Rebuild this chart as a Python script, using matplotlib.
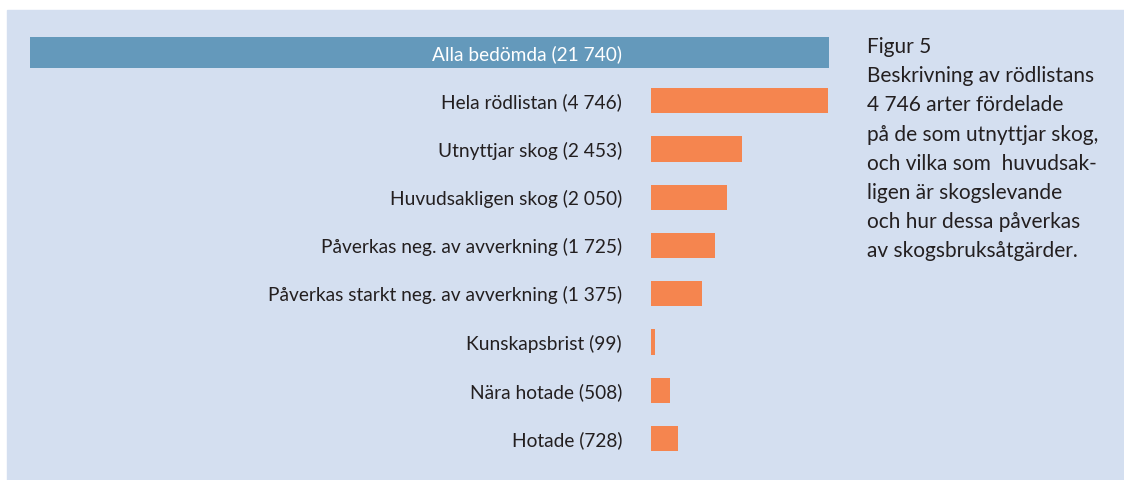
import matplotlib
matplotlib.use("Agg")
from matplotlib import pyplot as plt
from matplotlib.patches import Rectangle

# data
header_label = "Alla bedömda (21 740)"
header_value = 21740
categories = ["Hela rödlistan", "Utnyttjar skog", "Huvudsakligen skog",
              "Påverkas neg. av avverkning", "Påverkas starkt neg. av avverkning",
              "Kunskapsbrist", "Nära hotade", "Hotade"]
values = [4746, 2453, 2050, 1725, 1375, 99, 508, 728]
value_labels = ["4 746", "2 453", "2 050", "1 725", "1 375", "99", "508", "728"]

caption_title = "Figur 5"
caption_lines = ["Beskrivning av rödlistans",
                 "4 746 arter fördelade",
                 "på de som utnyttjar skog,",
                 "och vilka som  huvudsak-",
                 "ligen är skogslevande",
                 "och hur dessa påverkas",
                 "av skogsbruksåtgärder."]

BG = "#d4dff0"
HEADER = "#6499bb"
ORANGE = "#f5854f"
TXT = "#231f20"

plt.rcParams['font.family'] = ['Lato', 'DejaVu Sans']

W, H = 1124, 480
fig = plt.figure(figsize=(W / 100, H / 100), dpi=100)
fig.patch.set_facecolor("white")
fig.patches.append(Rectangle((7 / W, 0), 1 - 7 / W, (H - 10) / H,
                             transform=fig.transFigure, color=BG, zorder=-5))

# axes spans the header bar (x 30..829 px), y 20..470 px
ax_l, ax_r = 30, 829
ax_t, ax_b = 20, 470
ax = fig.add_axes([ax_l / W, (H - ax_b) / H, (ax_r - ax_l) / W, (ax_b - ax_t) / H])
ax.set_facecolor("none")

zero_px = 651
scale = max(values) / (828 - zero_px)  # units per pixel
ax.set_xlim(-(zero_px - ax_l) * scale, (ax_r - zero_px) * scale)
step = 48.25
ax.set_ylim(8 + (ax_b - 438.5) / step, -(52.5 - ax_t) / step)

# header banner across the full width
ax.barh(0, 1, left=0, height=0.64, color=HEADER, transform=ax.get_yaxis_transform())
ax.annotate(header_label, xy=(0, 0), xytext=(-29, 0), textcoords="offset pixels",
            ha="right", va="center_baseline", color="white", fontsize=13.8)

ypos = list(range(1, len(values) + 1))
ax.barh(ypos, values, height=0.52, color=ORANGE)
for y, c, v in zip(ypos, categories, value_labels):
    ax.annotate(f"{c} ({v})", xy=(0, y), xytext=(-29, 0), textcoords="offset pixels",
                ha="right", va="center_baseline", color=TXT, fontsize=13.8)

for s in ax.spines.values():
    s.set_visible(False)
ax.set_xticks([])
ax.set_yticks([])

# caption on the right
fig.text(867 / W, 1 - 47 / H, caption_title, ha="left", va="center",
         color=TXT, fontsize=15)
for i, line in enumerate(caption_lines):
    fig.text(867 / W, 1 - (47 + 29.2 * (i + 1)) / H, line, ha="left", va="center",
             color=TXT, fontsize=15)

fig.savefig("out.png", dpi=100, facecolor=fig.get_facecolor())
